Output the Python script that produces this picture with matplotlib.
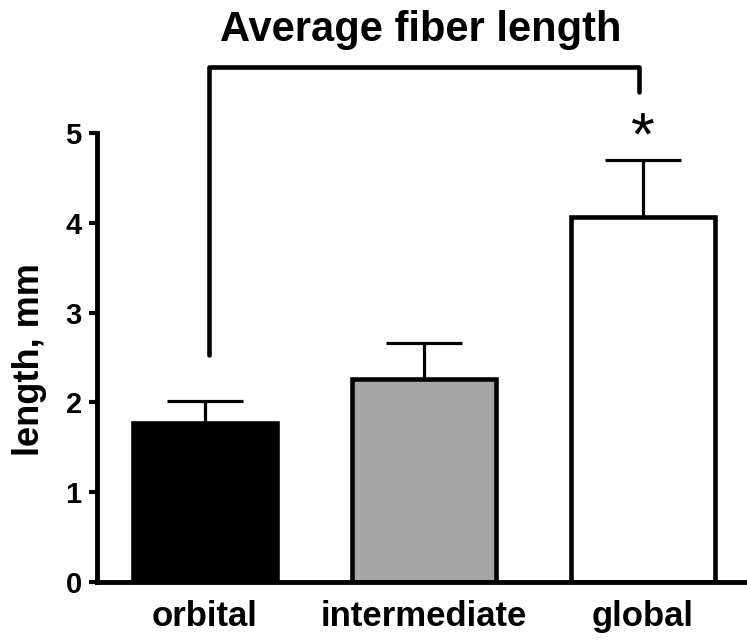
import matplotlib
matplotlib.use("Agg")
import matplotlib.pyplot as plt

# data
categories = ["orbital", "intermediate", "global"]
means = [1.77, 2.26, 4.06]
errors = [0.25, 0.40, 0.64]
colors = ["#000000", "#a6a6a6", "#ffffff"]
yticks = [0, 1, 2, 3, 4, 5]

# significance bracket between orbital and global
bracket_top = 5.73
bracket_left_end = 2.53
bracket_right_end = 5.46
star_y = 4.93

plt.rcParams["font.family"] = ["Liberation Sans", "DejaVu Sans"]
plt.rcParams["font.weight"] = "bold"

fig = plt.figure(figsize=(7.47, 6.4), dpi=100)
ax = fig.add_axes([97 / 747, 58 / 640, 650 / 747, 449 / 640])

x = list(range(len(categories)))
ax.bar(x, means, width=0.66, color=colors, edgecolor="black", linewidth=3.3, zorder=2)

# upward-only error bars
cap = 0.175
tops = [m + e for m, e in zip(means, errors)]
ax.vlines(x, means, tops, color="black", lw=2.3, zorder=1)
ax.hlines(tops, [i - cap for i in x], [i + cap for i in x], color="black", lw=2.3, zorder=1)

# bracket
ax.plot([x[0] + 0.02, x[0] + 0.02, x[2] - 0.02, x[2] - 0.02],
        [bracket_left_end, bracket_top, bracket_top, bracket_right_end],
        color="black", lw=3.3, solid_joinstyle="round", solid_capstyle="round", clip_on=False)
ax.text(x[2], star_y, "*", ha="center", va="center", fontsize=44, fontweight="normal", clip_on=False)

ax.set_xlim(-0.493, 2.475)
ax.set_ylim(0, 5)
ax.set_yticks(yticks)
ax.set_yticklabels([str(t) for t in yticks])
ax.set_xticks(x)
ax.set_xticklabels(categories)

for s in ["top", "right"]:
    ax.spines[s].set_visible(False)
for s in ["left", "bottom"]:
    ax.spines[s].set_linewidth(3.5)

ax.tick_params(axis="y", length=6, width=3, labelsize=21, pad=5)
ax.tick_params(axis="x", length=0, labelsize=25, pad=13)

fig.text(30 / 747, 1 - 360 / 640, "length, mm", rotation=90, ha="center", va="center",
         fontsize=26, fontweight="bold")
fig.text(421 / 747, 1 - 41 / 640, "Average fiber length", ha="center", va="baseline",
         fontsize=30, fontweight="bold")

fig.savefig("out.png", dpi=100)
